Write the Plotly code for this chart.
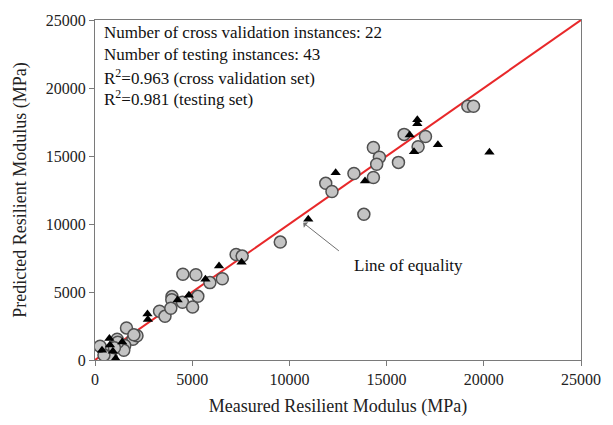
import plotly.graph_objects as go

# Testing set (circles): measured vs predicted resilient modulus, MPa
test_measured = [19180, 19470, 15900, 17000, 16620, 14320, 14630, 14490, 15610, 13320,
                 14320, 11870, 12190, 13830, 9530, 4520, 5190, 5910, 6550, 7260,
                 7570, 3960, 3950, 4500, 5290, 5020, 3320, 3600, 1620, 1140,
                 1950, 2160, 600, 1530, 850, 1480, 750, 460, 1170, 260,
                 1000, 2000, 3900]
test_predicted = [18660, 18660, 16590, 16430, 15680, 15630, 14910, 14390, 14530, 13710,
                  13420, 12990, 12390, 10710, 8670, 6310, 6270, 5690, 5970, 7760,
                  7640, 4660, 4430, 4250, 4680, 3890, 3590, 3210, 2360, 1530,
                  1530, 1780, 630, 1060, 140, 720, 290, 360, 1300, 1010,
                  900, 1850, 3800]

# Cross validation set (triangles)
cv_measured = [16580, 16580, 16190, 17640, 16410, 20290, 12380, 13890, 10970, 6380,
               7540, 5680, 4830, 4250, 2700, 2720, 740, 770, 1400, 1060,
               360, 920]
cv_predicted = [17670, 17380, 16550, 15830, 15320, 15270, 13760, 13160, 10350, 6920,
                7180, 5940, 4760, 4420, 3390, 2980, 1590, 1100, 1330, 110,
                720, 650]

axis_range = [0, 25000]
tick_vals = [0, 5000, 10000, 15000, 20000, 25000]
tick_text = ["0", "5000", "10000", "15000", "20000", "25000"]

stats_lines = [
    "Number of cross validation instances: 22",
    "Number of testing instances: 43",
    "R<sup>2</sup>=0.963 (cross validation set)",
    "R<sup>2</sup>=0.981 (testing set)",
]
stats_y = [24080, 22480, 20780, 19230]

serif = "Liberation Serif"

fig = go.Figure()

# Line of equality
fig.add_trace(go.Scatter(
    x=axis_range, y=axis_range, mode="lines",
    line=dict(color="#e8282a", width=2), hoverinfo="skip", showlegend=False,
))

fig.add_trace(go.Scatter(
    x=test_measured, y=test_predicted, mode="markers",
    marker=dict(symbol="circle", size=12, color="#c4c4c4",
                line=dict(color="#505050", width=1.5)),
    showlegend=False,
))

fig.add_trace(go.Scatter(
    x=cv_measured, y=cv_predicted, mode="markers",
    marker=dict(symbol="triangle-up", size=9, color="#000000",
                line=dict(width=0)),
    showlegend=False,
))

for txt, yy in zip(stats_lines, stats_y):
    fig.add_annotation(x=350, y=yy, xref="x", yref="y", text=txt,
                       showarrow=False, xanchor="left", yanchor="middle",
                       font=dict(family=serif, size=17, color="#111111"))

# Arrow pointing to the equality line
fig.add_annotation(x=10710, y=10090, ax=12700, ay=7850, xref="x", yref="y",
                   axref="x", ayref="y", text=" ", showarrow=True,
                   arrowhead=1, arrowsize=1.2, arrowwidth=1, arrowcolor="#707070")
fig.add_annotation(x=13200, y=6920, xref="x", yref="y", text="Line of equality",
                   showarrow=False, xanchor="left", yanchor="middle",
                   font=dict(family=serif, size=17, color="#111111"))

axis_common = dict(
    range=axis_range, tickvals=tick_vals, ticktext=tick_text,
    showgrid=False, zeroline=False, showline=True, linecolor="#7a7a7a",
    linewidth=1.2, mirror=True, ticks="outside", ticklen=5, tickcolor="#7a7a7a",
    tickfont=dict(family=serif, size=16, color="#222222"),
)

fig.update_xaxes(**axis_common,
                 title=dict(text="Measured Resilient Modulus (MPa)",
                            font=dict(family=serif, size=18, color="#222222"),
                            standoff=12))
fig.update_yaxes(**axis_common,
                 title=dict(text="Predicted Resilient Modulus (MPa)",
                            font=dict(family=serif, size=18, color="#222222"),
                            standoff=14))

fig.update_layout(
    width=613, height=425,
    margin=dict(l=95, r=28, t=15, b=63),
    paper_bgcolor="white", plot_bgcolor="white",
)

fig.write_html("out.html")
